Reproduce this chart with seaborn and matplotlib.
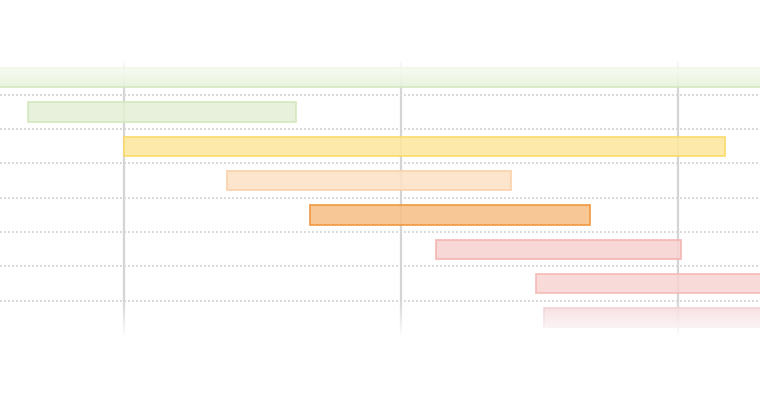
import numpy as np
import pandas as pd
import seaborn as sns
import matplotlib.pyplot as plt

# task rows (top to bottom), start / end on the time axis
tasks = ["T0", "T1", "T2", "T3", "T4", "T5", "T6", "T7"]
starts = [4.0, 6.53, 10.0, 13.72, 16.71, 21.26, 24.87, 25.16]
ends = [35.0, 16.21, 31.70, 23.97, 26.82, 30.11, 35.0, 35.0]
fills = ["#e2f0d2", "#e4f0d6", "#fde8a0", "#fde2c6", "#f7c087",
         "#f7d3d1", "#f8d5d3", "#f3d3d6"]
edges = ["#c9e3b0", "#d4e8bd", "#fbda66", "#fbd0a6", "#f0953a",
         "#f2b4b1", "#f3b9b6", "#ecc6ca"]
ticks = [10, 20, 30]

df = pd.DataFrame({"task": tasks, "start": starts, "end": ends})
df["dur"] = df["end"] - df["start"]

sns.set_theme(style="white")
fig = plt.figure(figsize=(7.6, 4.0), dpi=100)
ax = fig.add_axes([0, 1 - 335 / 400, 1, (335 - 60.5) / 400])

ypos = np.arange(len(df))
ax.barh(ypos, df["dur"], left=df["start"], height=0.56,
        color=fills, edgecolor=edges, linewidth=1.3, alpha=0.88, zorder=3)

# dotted row separators
for y in np.arange(-0.5, len(df) + 0.5, 1.0):
    ax.axhline(y, color="#d3d3d3", linestyle=(0, (1.2, 1.2)), linewidth=1.2, zorder=1)
# vertical time grid
for t in ticks:
    ax.axvline(t, color="#d4d4d4", linewidth=1.6, zorder=2)

ax.set_xlim(5.52, 32.96)
ax.set_ylim(len(df) - 0.5, -0.5)
ax.set_xticks([])
ax.set_yticks([])
for s in ax.spines.values():
    s.set_visible(False)

# white fade at top and bottom edges
rows = np.arange(400)
alpha = np.zeros(400)
alpha[rows < 58] = 1.0
top = (rows >= 58) & (rows < 92)
alpha[top] = 1 - (rows[top] - 58) / 34
bot = (rows >= 299) & (rows < 337)
alpha[bot] = (rows[bot] - 299) / 38
alpha[rows >= 337] = 1.0
fade = np.ones((400, 1, 4))
fade[:, 0, 3] = alpha
ov = fig.add_axes([0, 0, 1, 1], zorder=10)
ov.imshow(fade, aspect="auto", extent=[0, 1, 1, 0], interpolation="bilinear")
ov.set_axis_off()

fig.savefig("out.png", dpi=100)
